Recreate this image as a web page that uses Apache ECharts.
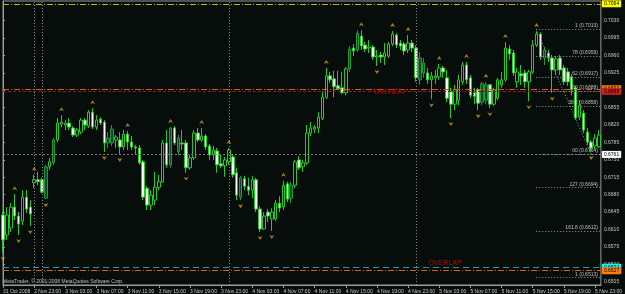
<!DOCTYPE html>
<html>
<head>
<meta charset="utf-8">
<script src="https://cdn.jsdelivr.net/npm/echarts@6/dist/echarts.min.js"></script>
<style>
  html, body { margin: 0; padding: 0; background: #070d0b; }
  #chart { width: 625px; height: 294px; }
</style>
</head>
<body>
<div id="chart"></div>
<script>
// time axis labels, one every 8 bars (M30)
const TIME_LABELS = ['31 Oct 2008', '2 Nov 23:00', '3 Nov 03:00', '3 Nov 07:00', '3 Nov 11:00', '3 Nov 15:00',
  '3 Nov 19:00', '3 Nov 23:00', '4 Nov 03:00', '4 Nov 07:00', '4 Nov 11:00', '4 Nov 15:00', '4 Nov 19:00',
  '4 Nov 23:00', '5 Nov 03:00', '5 Nov 07:00', '5 Nov 11:00', '5 Nov 15:00', '5 Nov 19:00', '5 Nov 23:00'];

// right price scale
const PRICE_TICKS = [0.6505, 0.6540, 0.6575, 0.6610, 0.6645, 0.6680, 0.6715, 0.6750, 0.6785,
  0.6820, 0.6855, 0.6890, 0.6925, 0.6960, 0.6995, 0.7030];

// bar index, open, close, low, high
const BARS = [
  [0, 0.6639, 0.6589, 0.6563, 0.6645], [1, 0.6599, 0.6639, 0.6589, 0.6655],
  [2, 0.6613, 0.6655, 0.6605, 0.6663], [3, 0.6655, 0.6637, 0.6629, 0.6681],
  [4, 0.6637, 0.6621, 0.6599, 0.6645], [5, 0.6627, 0.6675, 0.6619, 0.6689],
  [6, 0.6675, 0.6651, 0.6643, 0.6689], [7, 0.6655, 0.6641, 0.6617, 0.6669],
  [8, 0.6704, 0.6710, 0.6693, 0.6720], [9, 0.6710, 0.6706, 0.6699, 0.6726],
  [10, 0.6710, 0.6685, 0.6683, 0.6714], [11, 0.6673, 0.6736, 0.6671, 0.6740],
  [12, 0.6736, 0.6746, 0.6730, 0.6754], [13, 0.6744, 0.6790, 0.6740, 0.6794],
  [14, 0.6790, 0.6824, 0.6786, 0.6834], [15, 0.6822, 0.6826, 0.6816, 0.6840],
  [16, 0.6820, 0.6824, 0.6810, 0.6830], [17, 0.6824, 0.6816, 0.6810, 0.6834],
  [18, 0.6814, 0.6800, 0.6796, 0.6818], [19, 0.6800, 0.6810, 0.6796, 0.6814],
  [20, 0.6806, 0.6830, 0.6802, 0.6834], [21, 0.6830, 0.6820, 0.6810, 0.6834],
  [22, 0.6818, 0.6846, 0.6814, 0.6850], [23, 0.6846, 0.6816, 0.6812, 0.6854],
  [24, 0.6816, 0.6830, 0.6810, 0.6840], [25, 0.6832, 0.6824, 0.6820, 0.6836],
  [26, 0.6826, 0.6784, 0.6766, 0.6830], [27, 0.6784, 0.6794, 0.6774, 0.6806],
  [28, 0.6784, 0.6812, 0.6778, 0.6820], [29, 0.6790, 0.6796, 0.6774, 0.6800],
  [30, 0.6790, 0.6776, 0.6762, 0.6806], [31, 0.6776, 0.6802, 0.6770, 0.6810],
  [32, 0.6802, 0.6786, 0.6770, 0.6808], [33, 0.6786, 0.6776, 0.6770, 0.6798],
  [34, 0.6776, 0.6774, 0.6760, 0.6780], [35, 0.6774, 0.6744, 0.6740, 0.6780],
  [36, 0.6746, 0.6675, 0.6669, 0.6750], [37, 0.6693, 0.6659, 0.6649, 0.6697],
  [38, 0.6659, 0.6679, 0.6649, 0.6689], [39, 0.6669, 0.6695, 0.6659, 0.6726],
  [40, 0.6695, 0.6706, 0.6689, 0.6720], [41, 0.6706, 0.6784, 0.6704, 0.6790],
  [42, 0.6784, 0.6740, 0.6734, 0.6810], [43, 0.6740, 0.6814, 0.6734, 0.6816],
  [44, 0.6814, 0.6784, 0.6780, 0.6818], [45, 0.6766, 0.6794, 0.6760, 0.6800],
  [46, 0.6784, 0.6782, 0.6770, 0.6810], [47, 0.6784, 0.6734, 0.6724, 0.6790],
  [48, 0.6734, 0.6754, 0.6730, 0.6760], [49, 0.6754, 0.6804, 0.6750, 0.6810],
  [50, 0.6804, 0.6790, 0.6786, 0.6814], [51, 0.6790, 0.6798, 0.6786, 0.6814],
  [52, 0.6798, 0.6776, 0.6770, 0.6802], [53, 0.6778, 0.6760, 0.6750, 0.6782],
  [54, 0.6760, 0.6770, 0.6750, 0.6778], [55, 0.6768, 0.6740, 0.6724, 0.6774],
  [56, 0.6742, 0.6738, 0.6734, 0.6760], [57, 0.6738, 0.6750, 0.6716, 0.6756],
  [58, 0.6746, 0.6770, 0.6740, 0.6774], [59, 0.6756, 0.6720, 0.6714, 0.6760],
  [60, 0.6724, 0.6679, 0.6669, 0.6734], [61, 0.6675, 0.6714, 0.6669, 0.6718],
  [62, 0.6712, 0.6697, 0.6689, 0.6718], [63, 0.6697, 0.6689, 0.6679, 0.6714],
  [64, 0.6689, 0.6710, 0.6673, 0.6718], [65, 0.6710, 0.6651, 0.6645, 0.6714],
  [66, 0.6651, 0.6611, 0.6605, 0.6657], [67, 0.6611, 0.6637, 0.6609, 0.6645],
  [68, 0.6645, 0.6637, 0.6625, 0.6651], [69, 0.6631, 0.6645, 0.6607, 0.6653],
  [70, 0.6631, 0.6663, 0.6627, 0.6669], [71, 0.6663, 0.6653, 0.6645, 0.6677],
  [72, 0.6655, 0.6699, 0.6649, 0.6708], [73, 0.6702, 0.6671, 0.6665, 0.6706],
  [74, 0.6673, 0.6699, 0.6663, 0.6706], [75, 0.6699, 0.6746, 0.6693, 0.6750],
  [76, 0.6750, 0.6734, 0.6730, 0.6758], [77, 0.6736, 0.6744, 0.6726, 0.6750],
  [78, 0.6744, 0.6804, 0.6740, 0.6820], [79, 0.6804, 0.6814, 0.6798, 0.6826],
  [80, 0.6812, 0.6816, 0.6804, 0.6820], [81, 0.6814, 0.6836, 0.6804, 0.6846],
  [82, 0.6834, 0.6876, 0.6830, 0.6887], [83, 0.6876, 0.6919, 0.6872, 0.6935],
  [84, 0.6919, 0.6911, 0.6905, 0.6927], [85, 0.6913, 0.6897, 0.6876, 0.6929],
  [86, 0.6899, 0.6893, 0.6891, 0.6929], [87, 0.6895, 0.6885, 0.6883, 0.6927],
  [88, 0.6885, 0.6933, 0.6880, 0.6937], [89, 0.6933, 0.6973, 0.6927, 0.6979],
  [90, 0.6975, 0.6969, 0.6959, 0.6983], [91, 0.6971, 0.7005, 0.6967, 0.7011],
  [92, 0.6999, 0.6979, 0.6971, 0.7011], [93, 0.6981, 0.6973, 0.6967, 0.6987],
  [94, 0.6975, 0.6977, 0.6965, 0.6991], [95, 0.6977, 0.6957, 0.6951, 0.6981],
  [96, 0.6957, 0.6959, 0.6939, 0.6971], [97, 0.6961, 0.6957, 0.6945, 0.6967],
  [98, 0.6957, 0.6965, 0.6941, 0.6985], [99, 0.6959, 0.6983, 0.6955, 0.6987],
  [100, 0.6983, 0.7003, 0.6979, 0.7009], [101, 0.7001, 0.6981, 0.6975, 0.7005],
  [102, 0.6985, 0.6979, 0.6971, 0.6991], [103, 0.6983, 0.6969, 0.6961, 0.6987],
  [104, 0.6971, 0.6985, 0.6965, 0.7001], [105, 0.6985, 0.6975, 0.6967, 0.6991],
  [106, 0.6975, 0.6915, 0.6907, 0.6981], [107, 0.6911, 0.6955, 0.6901, 0.6967],
  [108, 0.6925, 0.6945, 0.6915, 0.6955], [109, 0.6925, 0.6911, 0.6903, 0.6935],
  [110, 0.6911, 0.6919, 0.6872, 0.6927], [111, 0.6915, 0.6919, 0.6903, 0.6931],
  [112, 0.6917, 0.6935, 0.6911, 0.6943], [113, 0.6935, 0.6927, 0.6915, 0.6939],
  [114, 0.6915, 0.6874, 0.6866, 0.6931], [115, 0.6887, 0.6862, 0.6834, 0.6895],
  [116, 0.6862, 0.6891, 0.6850, 0.6901], [117, 0.6870, 0.6911, 0.6860, 0.6921],
  [118, 0.6907, 0.6941, 0.6901, 0.6947], [119, 0.6941, 0.6911, 0.6903, 0.6947],
  [120, 0.6915, 0.6880, 0.6874, 0.6921], [121, 0.6885, 0.6878, 0.6862, 0.6895],
  [122, 0.6891, 0.6864, 0.6850, 0.6895], [123, 0.6866, 0.6903, 0.6860, 0.6907],
  [124, 0.6870, 0.6901, 0.6862, 0.6907], [125, 0.6901, 0.6862, 0.6854, 0.6903],
  [126, 0.6862, 0.6891, 0.6858, 0.6895], [127, 0.6874, 0.6911, 0.6870, 0.6915],
  [128, 0.6901, 0.6911, 0.6895, 0.6927], [129, 0.6911, 0.6975, 0.6907, 0.6987],
  [130, 0.6973, 0.6963, 0.6951, 0.6981], [131, 0.6965, 0.6925, 0.6919, 0.6971],
  [132, 0.6907, 0.6927, 0.6895, 0.6935], [133, 0.6923, 0.6919, 0.6901, 0.6941],
  [134, 0.6925, 0.6907, 0.6895, 0.6931], [135, 0.6907, 0.6927, 0.6868, 0.6931],
  [136, 0.6927, 0.6981, 0.6923, 0.6991], [137, 0.6981, 0.7003, 0.6977, 0.7009],
  [138, 0.7003, 0.6957, 0.6951, 0.7007], [139, 0.6955, 0.6971, 0.6941, 0.6977],
  [140, 0.6965, 0.6955, 0.6947, 0.6971], [141, 0.6955, 0.6931, 0.6885, 0.6961],
  [142, 0.6931, 0.6953, 0.6921, 0.6959], [143, 0.6955, 0.6931, 0.6921, 0.6961],
  [144, 0.6935, 0.6907, 0.6901, 0.6941], [145, 0.6927, 0.6907, 0.6899, 0.6935],
  [146, 0.6917, 0.6891, 0.6880, 0.6923], [147, 0.6895, 0.6834, 0.6830, 0.6899],
  [148, 0.6836, 0.6860, 0.6830, 0.6870], [149, 0.6844, 0.6810, 0.6804, 0.6850],
  [150, 0.6806, 0.6786, 0.6780, 0.6814], [151, 0.6786, 0.6774, 0.6766, 0.6790],
  [152, 0.6778, 0.6794, 0.6772, 0.6802], [153, 0.6776, 0.6800, 0.6774, 0.6810]
];

// bars drawn with the darker hatched body
const HATCHED = [11, 13, 27, 28, 43, 45, 61, 74, 89, 91, 107, 108, 123, 124, 139];

// fractal marks: bar index, price (high for up, low for down)
const UP_FRACTALS = [[3, 0.6681], [8, 0.6720], [15, 0.6840], [23, 0.6854], [32, 0.6808], [43, 0.6816],
  [51, 0.6814], [58, 0.6774], [72, 0.6708], [83, 0.6935], [92, 0.7011], [100, 0.7009], [104, 0.7001],
  [112, 0.6943], [119, 0.6947], [124, 0.6907], [129, 0.6987], [137, 0.7009]];
const DOWN_FRACTALS = [[0, 0.6563], [4, 0.6599], [7, 0.6617], [11, 0.6671], [26, 0.6766], [30, 0.6762],
  [47, 0.6724], [61, 0.6669], [66, 0.6605], [69, 0.6607], [96, 0.6939], [110, 0.6872], [115, 0.6834],
  [122, 0.6850], [125, 0.6854], [135, 0.6868], [141, 0.6885], [151, 0.6766]];

// period separators (bar index)
const SEPARATORS = [8, 10, 58, 106];

// horizontal levels: price, colour, label box, dash pattern
const LEVEL_PRICES = [0.7064, 0.6893, 0.6888, 0.6761, 0.6534, 0.6527];
const LEVEL_COLORS = ['#b8b800', '#c8641e', '#a01010', '#7a7a7a', '#1aa0a0', '#d86010'];
const LEVEL_BOX = ['#ffff00', '#ff8c00', '#d02020', '#ffffff', '#00ffff', '#ff7f00'];
const LEVEL_DASH = [[6, 2, 1, 2], [6, 2, 1, 2], [3, 2], [2, 2], [6, 4], [6, 2, 1, 2]];

// fibonacci levels
const FIB_PRICES = [0.7013, 0.6959, 0.6917, 0.6888, 0.6858, 0.6762, 0.6694, 0.6607, 0.6513];
const FIB_TEXT = ['1 (0.7013)', '78 (0.6959)', '62 (0.6917)', '50 (0.6888)', '38.2 (0.6858)',
  '00 (0.6764)', '127 (0.6694)', '161.8 (0.6612)', '1 (0.6513)'];
const FIB_START = 136.9;

const chart = echarts.init(document.getElementById('chart'));
const X_MAX = 153.5;
const FONT = 'Liberation Sans';

const fibLines = FIB_PRICES.map((p, k) => [
  { coord: [FIB_START, p] },
  { coord: [X_MAX, p], label: { show: true, formatter: FIB_TEXT[k] } }
]);

const candles = BARS.map(b => {
  if (HATCHED.indexOf(b[0]) < 0) return b;
  return {
    value: b,
    itemStyle: { color: '#0e4a26', color0: '#0e4a26', borderColor: '#1f9a3a', borderColor0: '#1f9a3a' }
  };
});

const option = {
  backgroundColor: '#070d0b',
  animation: false,
  textStyle: { fontFamily: FONT },
  grid: {
    left: 2, right: 18.5, top: 1, bottom: 9,
    show: true, borderColor: '#9a9a9a', borderWidth: 1
  },
  xAxis: {
    type: 'value',
    min: 0, max: X_MAX, interval: 8,
    splitLine: { show: false },
    axisLine: { lineStyle: { color: '#9a9a9a' } },
    axisTick: { length: 3, lineStyle: { color: '#9a9a9a' } },
    axisLabel: {
      color: '#c8c8c8', fontSize: 5, fontFamily: FONT, align: 'left', margin: 4,
      showMinLabel: true, showMaxLabel: false, hideOverlap: false,
      formatter: v => (v % 8 === 0 && TIME_LABELS[v / 8]) ? TIME_LABELS[v / 8] : ''
    }
  },
  yAxis: {
    type: 'value', position: 'right',
    min: 0.64983, max: 0.70696,
    splitLine: { show: false },
    axisLine: { show: true, lineStyle: { color: '#9a9a9a' } },
    axisTick: { show: true, length: 2, customValues: PRICE_TICKS, lineStyle: { color: '#9a9a9a' } },
    axisLabel: {
      color: '#c8c8c8', fontSize: 5, fontFamily: FONT, margin: 3,
      customValues: PRICE_TICKS,
      formatter: v => v.toFixed(4)
    }
  },
  series: [
    {
      type: 'line', data: [], silent: true,
      markLine: {
        symbol: 'none', silent: true, precision: 5,
        data: LEVEL_PRICES.map((p, k) => ({
          yAxis: p,
          lineStyle: { color: LEVEL_COLORS[k], type: LEVEL_DASH[k], width: 1 },
          label: {
            show: true, position: 'end', distance: 1, formatter: p.toFixed(4),
            backgroundColor: LEVEL_BOX[k], color: '#000', fontSize: 5, fontFamily: FONT, padding: [1, 2]
          }
        })).concat(SEPARATORS.map(i => ({
          xAxis: i,
          lineStyle: { color: '#8a8a8a', type: [1, 2], width: 1 },
          label: { show: false }
        })))
      }
    },
    {
      type: 'line', data: [], silent: true,
      markLine: {
        symbol: 'none', silent: true, precision: 5,
        lineStyle: { color: '#9a9a9a', type: [1, 2], width: 1 },
        label: { color: '#c0c0c0', fontSize: 5, fontFamily: FONT, position: 'insideEndTop', distance: [3, 1] },
        data: fibLines.concat([[
          { coord: [FIB_START, FIB_PRICES[0]] },
          { coord: [151, FIB_PRICES[5]] }
        ]])
      },
      markPoint: {
        symbol: 'circle', symbolSize: 0, silent: true,
        label: { show: true, color: '#c80000', fontSize: 7, fontFamily: FONT, formatter: 'OVERLAP' },
        data: [{ coord: [99.5, 0.6887] }, { coord: [113.5, 0.6543] }]
      }
    },
    {
      type: 'candlestick',
      encode: { x: 0, y: [1, 2, 3, 4] },
      barWidth: 3,
      itemStyle: {
        color: '#050a07', color0: '#f2fff2',
        borderColor: '#22cc22', borderColor0: '#22cc22', borderWidth: 1
      },
      data: candles
    },
    {
      type: 'scatter',
      symbol: 'path://M0,10 L5,0 L10,10 L5,7 Z',
      symbolSize: [5, 4], symbolOffset: [0, -6],
      itemStyle: { color: '#d4a017' },
      data: UP_FRACTALS
    },
    {
      type: 'scatter',
      symbol: 'path://M0,0 L5,3 L10,0 L5,10 Z',
      symbolSize: [5, 4], symbolOffset: [0, 6],
      itemStyle: { color: '#d4a017' },
      data: DOWN_FRACTALS
    }
  ],
  graphic: [{
    type: 'text', left: 3, top: 279,
    style: { text: 'MetaTrader, © 2001-2008 MetaQuotes Software Corp.', fill: '#c0c0c0', fontSize: 5, fontFamily: FONT }
  }]
};

chart.setOption(option);
</script>
</body>
</html>
